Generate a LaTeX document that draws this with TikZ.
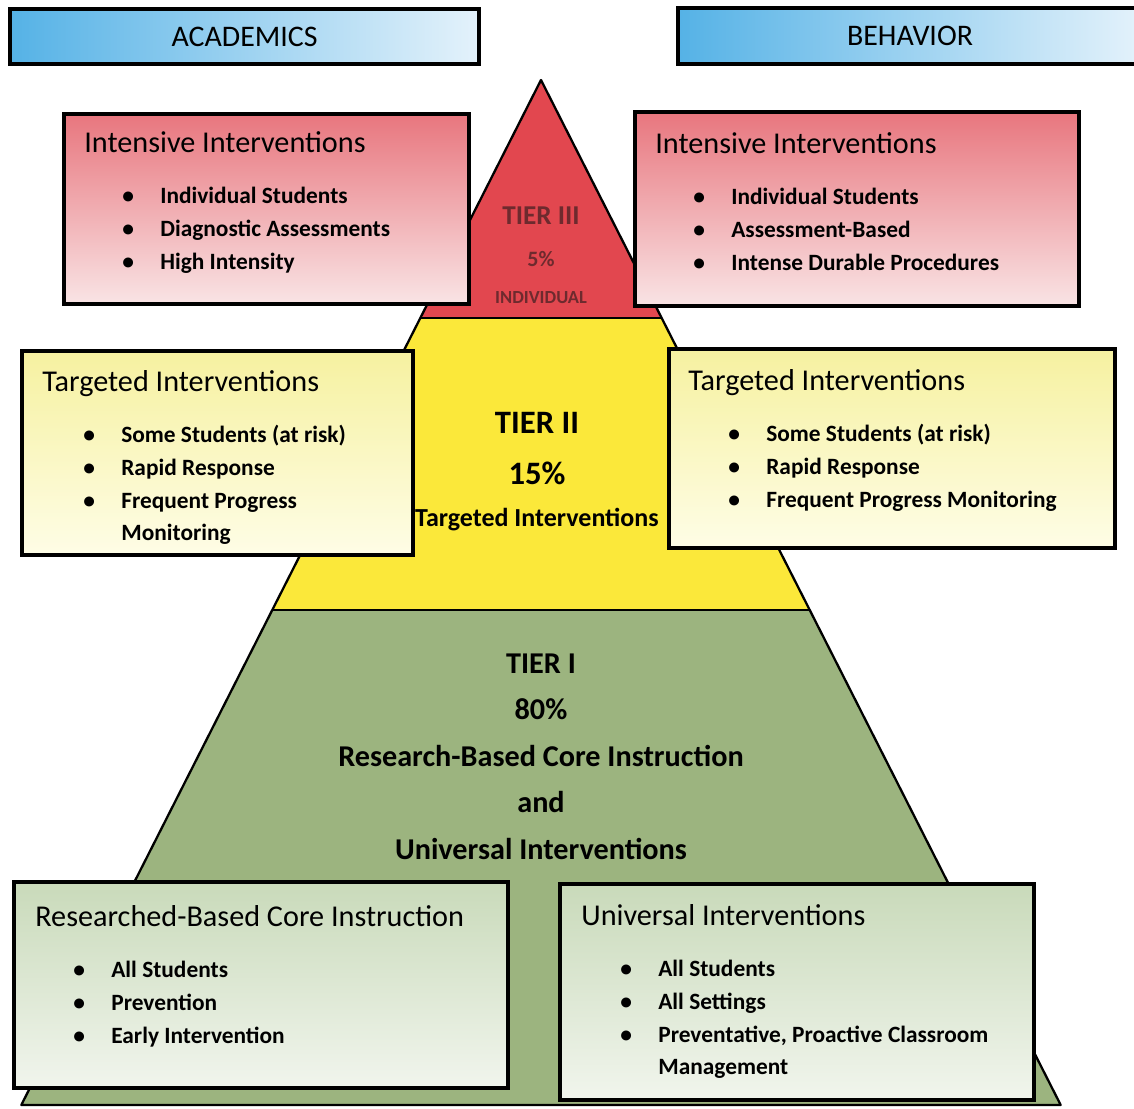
\documentclass[tikz,border=0pt]{standalone}
\usepackage{fontspec}
\setmainfont{Carlito}

\definecolor{tierred}{HTML}{E2474F}
\definecolor{tieryellow}{HTML}{FBE83A}
\definecolor{tiergreen}{HTML}{9CB47F}
\definecolor{hdrblue}{HTML}{55B2E6}
\definecolor{hdrlight}{HTML}{E4F2FB}
\definecolor{redtop}{HTML}{E8767E}
\definecolor{redbot}{HTML}{F9E4E5}
\definecolor{yeltop}{HTML}{F6F1A0}
\definecolor{yelbot}{HTML}{FEFDE6}
\definecolor{grntop}{HTML}{C9DABA}
\definecolor{grnbot}{HTML}{F1F5ED}
\definecolor{tiertext}{HTML}{6E2A2E}

\newcommand{\tb}{\llap{\makebox[0.76cm][l]{\textbullet}}}

\begin{document}
\begin{tikzpicture}[x=0.02cm,y=-0.02cm,
    panel/.style={draw=black,line width=2.4pt,anchor=north west,inner sep=0pt},
    header/.style={panel,left color=hdrblue,right color=hdrlight,font=\fontsize{17}{20}\selectfont},
    title/.style={anchor=base west,inner sep=0pt,font=\fontsize{17.2}{20}\selectfont},
    item/.style={anchor=base west,inner sep=0pt,font=\fontsize{13.3}{16}\selectfont\bfseries},
    tier/.style={anchor=base,inner sep=0pt,font=\fontsize{17.2}{20}\selectfont\bfseries},
    tiersmall/.style={anchor=base,inner sep=0pt,text=tiertext},
    tierline/.style={draw=black,line width=1.3pt,line join=round}]
    \useasboundingbox (0,0) rectangle (1134,1109);

    % pyramid
    \coordinate (apex) at (541,80);
    \coordinate (rl) at (420.3,318);
    \coordinate (rr) at (661.7,318);
    \coordinate (yl) at (272.3,610);
    \coordinate (yr) at (809.7,610);
    \coordinate (gl) at (21.3,1105);
    \coordinate (gr) at (1060.7,1105);
    \fill[tierred] (apex) -- (rr) -- (rl) -- cycle;
    \fill[tieryellow] (rl) -- (rr) -- (yr) -- (yl) -- cycle;
    \fill[tiergreen] (yl) -- (yr) -- (gr) -- (gl) -- cycle;
    \draw[tierline] (apex) -- (gr) -- (gl) -- cycle;
    \draw[tierline] (rl) -- (rr);
    \draw[tierline] (yl) -- (yr);

    % headers
    \node[header,minimum width=9.38cm,minimum height=1.1cm] (academics) at (8,7) {ACADEMICS};
    \node[header,minimum width=9.28cm,minimum height=1.12cm] (behavior) at (676,6) {BEHAVIOR};

    % tier III
    \node[tiersmall,font=\fontsize{15.5}{18}\selectfont\bfseries] (t3name) at (541,224) {TIER III};
    \node[tiersmall,font=\fontsize{12.5}{14}\selectfont\bfseries] (t3pct) at (541,266) {5\%};
    \node[tiersmall,font=\fontsize{10.5}{12}\selectfont\bfseries] (t3desc) at (541,303) {INDIVIDUAL};

    % intensive boxes
    \node[panel,top color=redtop,bottom color=redbot,minimum width=8.1cm,minimum height=3.8cm] (acadintense) at (62,112) {};
    \node[title] (acadintensetitle) at (84,152) {Intensive Interventions};
    \node[item] (ai1) at (160,203.5) {\tb Individual Students};
    \node[item] (ai2) at (160,236.5) {\tb Diagnostic Assessments};
    \node[item] (ai3) at (160,269.5) {\tb High Intensity};

    \node[panel,top color=redtop,bottom color=redbot,minimum width=8.88cm,minimum height=3.88cm] (behintense) at (633,110) {};
    \node[title] (behintensetitle) at (655,153) {Intensive Interventions};
    \node[item] (bi1) at (731,204.5) {\tb Individual Students};
    \node[item] (bi2) at (731,237.5) {\tb Assessment-Based};
    \node[item] (bi3) at (731,270.5) {\tb Intense Durable Procedures};

    % tier II
    \node[tier,font=\fontsize{18.6}{21}\selectfont\bfseries] (t2name) at (537,433) {TIER II};
    \node[tier,font=\fontsize{18.6}{21}\selectfont\bfseries] (t2pct) at (537,484) {15\%};
    \node[tier,font=\fontsize{14.8}{17}\selectfont\bfseries] (t2desc) at (537,526) {Targeted Interventions};

    % targeted boxes
    \node[panel,top color=yeltop,bottom color=yelbot,minimum width=7.82cm,minimum height=4.08cm] (acadtarget) at (20,349) {};
    \node[title] (acadtargettitle) at (42,391) {Targeted Interventions};
    \node[item] (at1) at (121,442.5) {\tb Some Students (at risk)};
    \node[item] (at2) at (121,475.5) {\tb Rapid Response};
    \node[item] (at3) at (121,508.5) {\tb Frequent Progress};
    \node[item] (at4) at (121,540) {Monitoring};

    \node[panel,top color=yeltop,bottom color=yelbot,minimum width=8.92cm,minimum height=3.98cm] (behtarget) at (667,347) {};
    \node[title] (behtargettitle) at (688,390) {Targeted Interventions};
    \node[item] (bt1) at (766,441.5) {\tb Some Students (at risk)};
    \node[item] (bt2) at (766,474.5) {\tb Rapid Response};
    \node[item] (bt3) at (766,507.5) {\tb Frequent Progress Monitoring};

    % tier I
    \node[tier] (t1name) at (541,673) {TIER I};
    \node[tier] (t1pct) at (541,719) {80\%};
    \node[tier] (t1desc) at (541,766) {Research-Based Core Instruction};
    \node[tier] (t1and) at (541,812) {and};
    \node[tier] (t1univ) at (541,859) {Universal Interventions};

    % universal boxes
    \node[panel,top color=grntop,bottom color=grnbot,minimum width=9.88cm,minimum height=4.12cm] (acadcore) at (12,880) {};
    \node[title] (acadcoretitle) at (35,926) {Researched-Based Core Instruction};
    \node[item] (ac1) at (111,977.5) {\tb All Students};
    \node[item] (ac2) at (111,1010.5) {\tb Prevention};
    \node[item] (ac3) at (111,1043.5) {\tb Early Intervention};

    \node[panel,top color=grntop,bottom color=grnbot,minimum width=9.48cm,minimum height=4.32cm] (behuniv) at (558,882) {};
    \node[title] (behunivtitle) at (581,925) {Universal Interventions};
    \node[item] (bu1) at (658,976.5) {\tb All Students};
    \node[item] (bu2) at (658,1009.5) {\tb All Settings};
    \node[item] (bu3) at (658,1042.5) {\tb Preventative, Proactive Classroom};
    \node[item] (bu4) at (658,1074.5) {Management};
\end{tikzpicture}
\end{document}
